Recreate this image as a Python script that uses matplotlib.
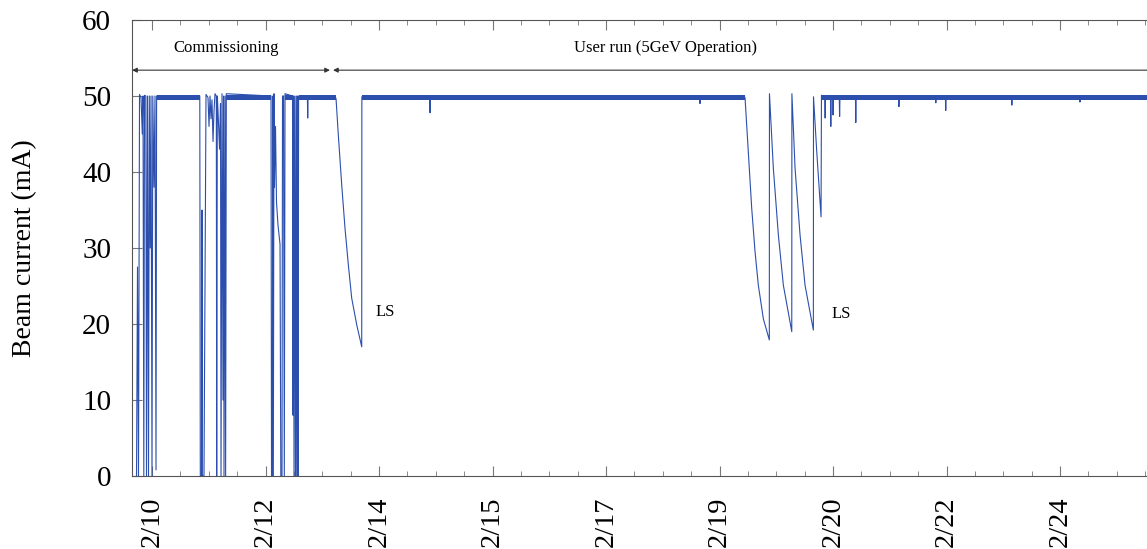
import matplotlib
matplotlib.use("Agg")
import matplotlib.pyplot as plt
from matplotlib.ticker import MultipleLocator

plt.rcParams['font.family'] = ['Liberation Serif', 'DejaVu Serif']

# beam current trace: hours from the 2/10 tick, current in mA
time_h = [
    -5.46, -5.11, -4.76, -4.40, -3.88, -3.42, -3.17, -2.89, -2.64, -2.18,
    -1.94, -1.59, -1.23, -0.95, -0.63, -0.35, 0.00, 0.28, 0.70, 1.06,
    1.41, 1.62,
    16.84, 17.02, 17.44, 17.62, 17.73, 18.32, 19.03, 19.73, 20.09, 20.44,
    20.79, 21.14, 21.50, 21.85, 22.20, 22.66, 22.80, 23.01, 23.26, 23.79,
    24.14, 24.32, 24.67, 25.02, 25.20, 25.37, 25.73, 25.94, 26.18,
    41.94, 42.11, 42.40, 42.54, 42.75, 42.99, 43.17, 43.52, 43.87, 44.40,
    45.11, 45.39, 45.81, 45.99, 46.34, 46.62, 46.87,
    49.51, 49.69, 49.87, 50.04, 50.32, 50.57, 50.85, 51.03, 51.27, 51.45,
    51.66,
    64.84, 65.65, 66.85, 68.01, 69.18, 70.37, 72.14, 73.90, 73.95,
    208.97, 210.13, 211.33, 212.50, 213.66, 215.42, 217.53, 217.58,
    218.95, 220.72, 222.48, 225.44, 225.49,
    226.60, 228.36, 230.12, 233.05, 233.10,
    234.24, 235.76, 235.90,
    355.0,
]
current_ma = [
    0.0, 27.5, 0.0, 50.2, 49.8, 45.0, 50.0, 0.0, 50.1, 50.0,
    0.0, 50.0, 0.0, 50.0, 30.0, 50.0, 0.0, 50.0, 38.0, 50.0,
    0.8, 50.0,
    50.0, 0.0, 0.0, 35.0, 0.0, 0.0, 50.2, 49.8, 46.0, 50.0,
    47.0, 49.5, 44.0, 48.0, 50.3, 50.0, 0.0, 50.0, 48.0, 43.0,
    49.0, 0.0, 50.3, 10.0, 50.0, 0.0, 50.0, 0.0, 50.3,
    50.0, 0.0, 0.0, 50.0, 0.0, 50.3, 38.0, 46.0, 36.0, 33.0,
    30.5, 0.0, 0.0, 50.0, 50.0, 0.0, 50.3,
    50.0, 8.0, 50.0, 0.0, 50.0, 0.0, 50.0, 0.0, 50.0, 0.0,
    50.0,
    49.7, 44.9, 38.3, 32.6, 27.8, 23.4, 19.9, 17.0, 49.9,
    49.8, 42.7, 35.2, 29.5, 25.1, 20.7, 17.9, 50.3,
    40.5, 31.7, 25.1, 19.0, 50.3,
    40.5, 31.7, 25.1, 19.2, 49.9,
    42.7, 34.1, 50.1,
    49.8,
]

# short dips while beam is stored
dip_h = [54.87, 97.97, 193.10, 237.20, 239.20, 240.00, 242.30, 248.00,
         263.20, 276.20, 279.70, 303.00, 327.00]
dip_ma = [47.1, 47.8, 49.0, 47.1, 46.0, 47.5, 47.3, 46.5,
          48.6, 49.1, 48.1, 48.8, 49.2]

# stored-beam periods and the fill noise band around 50 mA
stored_start = [1.62, 26.18, 46.87, 51.66, 73.95, 235.90]
stored_end = [16.84, 41.94, 49.51, 64.84, 208.97, 355.0]
band_lo, band_hi = 49.5, 50.1

tick_hours = [0, 40, 80, 120, 160, 200, 240, 280, 320]
tick_labels = ["2/10", "2/12", "2/14", "2/15", "2/17", "2/19", "2/20", "2/22", "2/24"]

# merge dips into the trace
pts = list(zip(time_h, current_ma))
for t, v in zip(dip_h, dip_ma):
    pts += [(t - 0.12, 49.8), (t, v), (t + 0.12, 49.8)]
pts.sort(key=lambda p: p[0])
xs = [p[0] for p in pts]
ys = [p[1] for p in pts]

blue = "#2c4fae"
fig = plt.figure(figsize=(11.47, 5.49), dpi=100)
ax = fig.add_axes([132 / 1147, 1 - 476 / 549, (1160 - 132) / 1147, 456 / 549])

for s, e in zip(stored_start, stored_end):
    ax.fill_between([s, e], band_lo, band_hi, color=blue, lw=0)
ax.plot(xs, ys, color=blue, lw=0.8)

ax.set_xlim(-7.05, 355.2)
ax.set_ylim(0, 60)
ax.set_xticks(tick_hours)
ax.set_xticklabels(tick_labels, rotation=90, fontsize=20.5)
ax.xaxis.set_minor_locator(MultipleLocator(10))
ax.set_yticks(range(0, 61, 10))
ax.tick_params(axis='y', labelsize=21, pad=15)
ax.tick_params(axis='x', pad=15)
ax.tick_params(which='both', direction='in', top=True, right=False, color='#777777')
ax.tick_params(which='major', length=7)
ax.tick_params(which='minor', length=3.5)
ax.set_ylabel("Beam current (mA)", fontsize=20)
ax.yaxis.set_label_coords(-0.092, 0.5)
for sp in ax.spines.values():
    sp.set_color('#555555')
ax.spines['right'].set_visible(False)

# period arrows and labels
arrow = dict(arrowstyle='<|-|>', color='#333333', lw=0.8, mutation_scale=7, shrinkA=0, shrinkB=0)
ax.annotate("", xy=(-7.0, 53.4), xytext=(62.7, 53.4), arrowprops=arrow)
ax.annotate("", xy=(63.8, 53.4), xytext=(355.0, 53.4), arrowprops=arrow)
ax.text(26.0, 56.3, "Commissioning", fontsize=12, ha='center', va='center')
ax.text(180.8, 56.3, "User run (5GeV Operation)", fontsize=12, ha='center', va='center')
ax.text(78.9, 21.6, "LS", fontsize=12, ha='left', va='center')
ax.text(239.3, 21.3, "LS", fontsize=12, ha='left', va='center')

fig.savefig("out.png", dpi=100)
